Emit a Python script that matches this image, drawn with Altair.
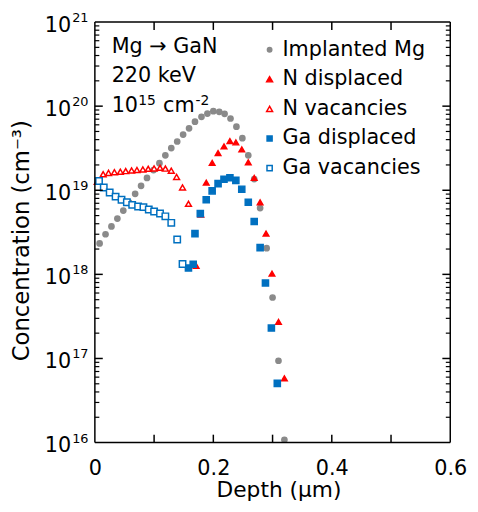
import altair as alt
import pandas as pd

FONT = "DejaVu Sans"

# ---- data ----
series_order = ["Implanted Mg", "N displaced", "N vacancies", "Ga displaced", "Ga vacancies"]

mg_depth = [0.008, 0.018, 0.028, 0.038, 0.048, 0.058, 0.068, 0.078, 0.088, 0.099, 0.109,
            0.119, 0.129, 0.139, 0.149, 0.159, 0.169, 0.180, 0.190, 0.200, 0.210, 0.219,
            0.229, 0.239, 0.249, 0.259, 0.269, 0.279, 0.290, 0.300, 0.310, 0.320]
mg_conc = [2.33e18, 3.0e18, 3.72e18, 4.61e18, 5.73e18, 7.11e18, 9.07e18, 1.13e19, 1.40e19,
           1.74e19, 2.10e19, 2.60e19, 3.17e19, 3.80e19, 4.59e19, 5.45e19, 6.53e19, 7.47e19,
           8.17e19, 8.72e19, 8.55e19, 8.10e19, 7.13e19, 5.70e19, 4.16e19, 2.60e19, 1.36e19,
           6.14e18, 2.05e18, 5.31e17, 9.4e16, 1.08e16]

n_disp_depth = [0.171, 0.179, 0.188, 0.198, 0.208, 0.218, 0.228, 0.238, 0.248, 0.259, 0.269,
                0.279, 0.289, 0.299, 0.310, 0.320]
n_disp_conc = [1.26e18, 5.14e18, 1.23e19, 2.11e19, 2.77e19, 3.32e19, 3.85e19, 3.70e19, 3.06e19,
               2.15e19, 1.40e19, 7.2e18, 3.06e18, 1.02e18, 2.72e17, 5.8e16]

n_vac_depth = [0.004, 0.014, 0.023, 0.033, 0.043, 0.052, 0.062, 0.071, 0.081, 0.090, 0.100,
               0.110, 0.119, 0.129, 0.138, 0.148, 0.158]
n_vac_conc = [1.26e19, 1.55e19, 1.61e19, 1.64e19, 1.66e19, 1.69e19, 1.72e19, 1.74e19, 1.77e19,
              1.80e19, 1.82e19, 1.85e19, 1.81e19, 1.71e19, 1.44e19, 1.08e19, 6.9e18]

ga_disp_depth = [0.158, 0.166, 0.169, 0.178, 0.188, 0.198, 0.208, 0.218, 0.228, 0.238, 0.248,
                 0.259, 0.269, 0.279, 0.288, 0.298, 0.308]
ga_disp_conc = [1.19e18, 1.32e18, 3.05e18, 5.28e18, 7.71e18, 9.84e18, 1.20e19, 1.35e19, 1.41e19,
                1.31e19, 1.03e19, 7.2e18, 4.26e18, 2.08e18, 7.9e17, 2.30e17, 5.06e16]

ga_vac_depth = [0.007, 0.015, 0.025, 0.035, 0.045, 0.054, 0.063, 0.073, 0.082, 0.091, 0.100,
                0.110, 0.119, 0.129, 0.139, 0.148]
ga_vac_conc = [1.29e19, 1.08e19, 9.4e18, 8.4e18, 7.7e18, 7.2e18, 6.7e18, 6.4e18, 6.3e18,
               5.9e18, 5.6e18, 5.3e18, 4.9e18, 4.1e18, 2.6e18, 1.33e18]

x_label_values = [0, 0.2, 0.4, 0.6]
x_tick_values = [0.1, 0.2, 0.3, 0.4, 0.5]
y_decades = [1e16, 1e17, 1e18, 1e19, 1e20, 1e21]
y_exponents = ["16", "17", "18", "19", "20", "21"]
y_minor_mult = [2, 3, 4, 5, 6, 7, 8, 9]

# ---- tables ----
frames = []
for i, (name, d, c) in enumerate([("Implanted Mg", mg_depth, mg_conc),
                                  ("N displaced", n_disp_depth, n_disp_conc),
                                  ("N vacancies", n_vac_depth, n_vac_conc),
                                  ("Ga displaced", ga_disp_depth, ga_disp_conc),
                                  ("Ga vacancies", ga_vac_depth, ga_vac_conc)]):
    frames.append(pd.DataFrame({"d": d, "c": c, "series": name, "idx": i}))
pts = pd.concat(frames, ignore_index=True)

W, H = 360, 426
xscale = alt.Scale(domain=[0, 0.6], nice=False, zero=False)
yscale = alt.Scale(type="log", domain=[1e16, 1e21], nice=False)

x_axis = alt.Axis(
    values=x_label_values, format=".1~f", grid=False, ticks=False, tickSize=0,
    domain=False, labelFont=FONT, labelFontSize=21, labelColor="black",
    labelPadding=15, labelFlush=False, title="Depth (μm)", titleFont=FONT,
    titleFontSize=22, titleFontWeight="normal", titleColor="black",
    titleX=186, titleY=55, titleAlign="center", titleBaseline="alphabetic")
y_axis = alt.Axis(
    labels=False, ticks=False, tickSize=0, domain=False, grid=False,
    title="Concentration (cm⁻³)", titleFont=FONT, titleFontSize=23,
    titleFontWeight="normal", titleColor="black", titleX=-74, titleY=221,
    titleAngle=270, titleAlign="center", titleBaseline="middle")

def X():
    return alt.X("d:Q", scale=xscale, axis=x_axis, title="Depth (μm)")

def Y():
    return alt.Y("c:Q", scale=yscale, axis=y_axis, title="Concentration (cm⁻³)")

GRAY, RED, BLUE = "#8a8a8a", "#ff0000", "#0070c0"
shapes = ["circle", "triangle-up", "triangle-up", "square", "square"]
strokes = [GRAY, RED, RED, BLUE, BLUE]
fills = [GRAY, RED, "white", BLUE, "white"]

points = alt.Chart(pts).mark_point(opacity=1, strokeWidth=1.5).encode(
    x=X(), y=Y(),
    shape=alt.Shape("series:N", scale=alt.Scale(domain=series_order, range=shapes), legend=None),
    stroke=alt.Stroke("series:N", scale=alt.Scale(domain=series_order, range=strokes), legend=None),
    fill=alt.Fill("series:N", scale=alt.Scale(domain=series_order, range=fills), legend=None),
    size=alt.Size("series:N", scale=alt.Scale(
        domain=series_order, range=[28, 42, 44, 32, 38]), legend=None),
    order=alt.Order("idx:Q"),
)

# frame
one = pd.DataFrame({"a": [0]})
frame_style = dict(color="black", strokeWidth=1.5)
frame = [
    alt.Chart(one).mark_rule(**frame_style).encode(x=alt.value(0), x2=alt.value(W), y=alt.value(0)),
    alt.Chart(one).mark_rule(**frame_style).encode(x=alt.value(0), x2=alt.value(W), y=alt.value(H)),
    alt.Chart(one).mark_rule(**frame_style).encode(y=alt.value(0), y2=alt.value(H), x=alt.value(0)),
    alt.Chart(one).mark_rule(**frame_style).encode(y=alt.value(0), y2=alt.value(H), x=alt.value(W)),
]

# inward ticks
xt = pd.DataFrame({"d": x_tick_values})
tick_style = dict(color="black", strokeWidth=1.5)
x_bot = alt.Chart(xt).mark_rule(**tick_style).encode(
    x=X(), y=alt.value(H), y2=alt.value(H - 8))
x_top = alt.Chart(xt).mark_rule(**tick_style).encode(
    x=X(), y=alt.value(0), y2=alt.value(8))

ymaj = pd.DataFrame({"c": y_decades[1:-1]})
ymin = pd.DataFrame({"c": [m * dec for dec in y_decades[:-1] for m in y_minor_mult]})
y_l_maj = alt.Chart(ymaj).mark_rule(**tick_style).encode(
    y=Y(), x=alt.value(0), x2=alt.value(8))
y_r_maj = alt.Chart(ymaj).mark_rule(**tick_style).encode(
    y=Y(), x=alt.value(W), x2=alt.value(W - 8))
y_l_min = alt.Chart(ymin).mark_rule(color="black", strokeWidth=1.2).encode(
    y=Y(), x=alt.value(0), x2=alt.value(4.5))
y_r_min = alt.Chart(ymin).mark_rule(color="black", strokeWidth=1.2).encode(
    y=Y(), x=alt.value(W), x2=alt.value(W - 4.5))

# y tick labels 10^n
ylab = pd.DataFrame({"c": y_decades, "base": ["10"] * 6, "exp": y_exponents})
y_base = alt.Chart(ylab).mark_text(font=FONT, fontSize=21, align="right",
                                   baseline="alphabetic", dy=10, color="black").encode(
    y=Y(), x=alt.value(-24), text="base:N")
y_exp = alt.Chart(ylab).mark_text(font=FONT, fontSize=13, align="left",
                                  baseline="alphabetic", dy=0, color="black").encode(
    y=Y(), x=alt.value(-23), text="exp:N")

# annotation
def txt(s, x, y, size=21, baseline="alphabetic"):
    return alt.Chart(pd.DataFrame({"t": [s]})).mark_text(
        font=FONT, fontSize=size, align="left", baseline=baseline, color="black"
    ).encode(text="t:N", x=alt.value(x), y=alt.value(y))

ann = [
    txt("Mg → GaN", 17, 31),
    txt("220 keV", 17, 61),
    txt("10", 17, 91),
    txt("15", 44, 84, 14),
    txt("cm", 69, 91),
    txt("-2", 102, 84, 14),
]

# legend (drawn as marks)
leg_sizes = [20, 36, 36, 26, 28]
legend_layers = []
for i, name in enumerate(series_order):
    yy = 28 + 30 * i
    legend_layers.append(
        alt.Chart(one).mark_point(shape=shapes[i], stroke=strokes[i], fill=fills[i],
                                  size=leg_sizes[i], strokeWidth=1.5, opacity=1, filled=False)
        .encode(x=alt.value(177), y=alt.value(yy)))
    legend_layers.append(txt(name, 190, yy, 21, "middle"))

chart = alt.layer(
    points, *frame, x_bot, x_top, y_l_maj, y_r_maj, y_l_min, y_r_min, y_base, y_exp,
    *ann, *legend_layers
).properties(
    width=W, height=H,
    autosize=alt.AutoSizeParams(type="none"),
    padding={"left": 88, "top": 11, "right": 20, "bottom": 60},
    background="white",
).configure_view(strokeWidth=0)

chart.save("out.html", embed_options={"renderer": "svg", "actions": False})
